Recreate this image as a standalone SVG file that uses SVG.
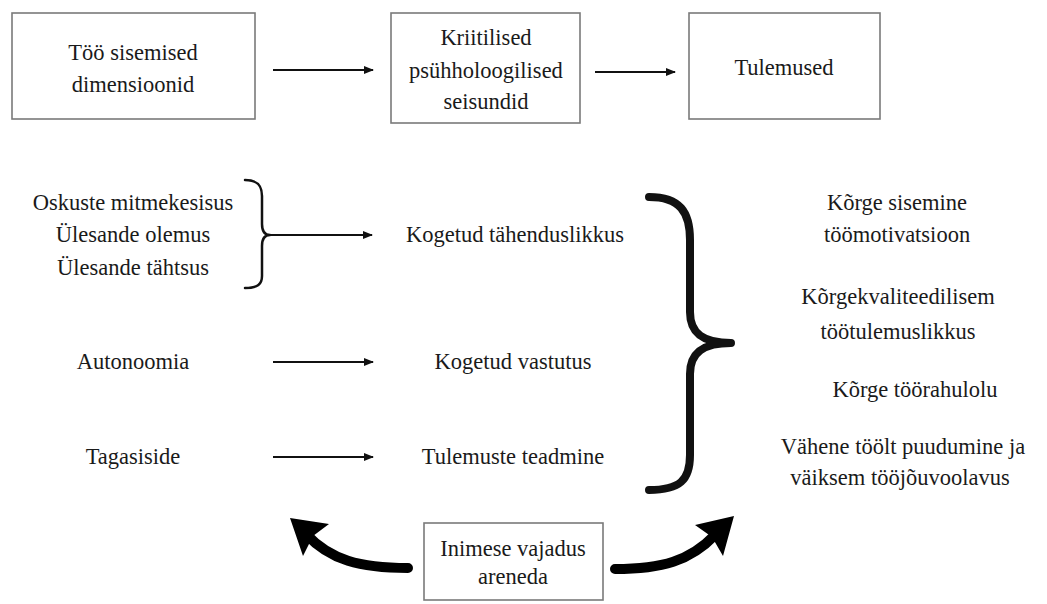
<svg xmlns="http://www.w3.org/2000/svg" width="1047" height="604" viewBox="0 0 1047 604">
<style>
text{font-family:"Liberation Serif","Times New Roman",serif;font-size:22.5px;fill:#1a1a1a;text-anchor:middle}
.box{fill:#fff;stroke:#7a7a7a;stroke-width:1.6}
.thin{fill:none;stroke:#111;stroke-width:2}
.brace{fill:none;stroke:#111;stroke-linecap:round;stroke-linejoin:round}
.fat{fill:none;stroke:#000;stroke-width:10;stroke-linecap:round}
</style>
<defs>
<marker id="ah" viewBox="0 0 10 10" refX="9" refY="5" markerWidth="5" markerHeight="5" orient="auto" markerUnits="strokeWidth">
<path d="M0,1 L10,5 L0,9 z" fill="#111"/>
</marker>
</defs>
<rect width="1047" height="604" fill="#fff"/>

<g id="n-dimensioonid">
<rect class="box" x="12" y="13" width="243" height="106"/>
<text x="133" y="60">Töö sisemised</text>
<text x="133" y="92">dimensioonid</text>
</g>
<g id="n-kriitilised">
<rect class="box" x="391" y="13" width="189" height="110"/>
<text x="486" y="45">Kriitilised</text>
<text x="486" y="78">psühholoogilised</text>
<text x="486" y="109">seisundid</text>
</g>
<g id="n-tulemused">
<rect class="box" x="689" y="13" width="191" height="106"/>
<text x="784" y="75">Tulemused</text>
</g>

<g id="n-dimensions-list">
<text x="133" y="210">Oskuste mitmekesisus</text>
<text x="133" y="242">Ülesande olemus</text>
<text x="133" y="275">Ülesande tähtsus</text>
</g>
<g id="n-autonoomia"><text x="133" y="369">Autonoomia</text></g>
<g id="n-tagasiside"><text x="133" y="464">Tagasiside</text></g>

<g id="n-tahenduslikkus"><text x="515" y="242">Kogetud tähenduslikkus</text></g>
<g id="n-vastutus"><text x="513" y="369">Kogetud vastutus</text></g>
<g id="n-teadmine"><text x="513" y="464">Tulemuste teadmine</text></g>

<g id="n-outcomes">
<text x="897" y="210">Kõrge sisemine</text>
<text x="897" y="242">töömotivatsioon</text>
<text x="898" y="304">Kõrgekvaliteedilisem</text>
<text x="898" y="339">töötulemuslikkus</text>
<text x="915" y="397">Kõrge töörahulolu</text>
<text x="903" y="454">Vähene töölt puudumine ja</text>
<text x="900" y="485">väiksem tööjõuvoolavus</text>
</g>

<g id="n-vajadus">
<rect class="box" x="424" y="523" width="179" height="77"/>
<text x="513" y="556">Inimese vajadus</text>
<text x="513" y="584">areneda</text>
</g>

<g id="connectors">
<line class="thin" x1="273" y1="70" x2="373" y2="70" marker-end="url(#ah)"/>
<line class="thin" x1="595" y1="72" x2="675" y2="72" marker-end="url(#ah)"/>
<path class="brace" stroke-width="2.5" d="M245,180 C258,180 262,186 262,196 L262,224 C262,231 265,235 270,235 C265,235 262,239 262,246 L262,276 C262,284 258,288 245,288"/>
<line class="thin" x1="270" y1="235" x2="372" y2="235" marker-end="url(#ah)"/>
<line class="thin" x1="273" y1="362" x2="373" y2="362" marker-end="url(#ah)"/>
<line class="thin" x1="273" y1="457" x2="373" y2="457" marker-end="url(#ah)"/>
<path class="brace" stroke-width="8" d="M649,197 C680,197 690,212 690,240 L690,312 C690,334 704,343 731,343 C704,343 690,352 690,374 L690,455 C690,480 680,490 649,490"/>
<path class="fat" d="M408,568 C360,568 330,560 306,534"/>
<polygon points="290,518 329,524 313,536 303,556" fill="#000"/>
<path class="fat" d="M615,569 C662,569 690,561 715,535"/>
<polygon points="734,516 695,525 712,537 723,556" fill="#000"/>
</g>
</svg>
